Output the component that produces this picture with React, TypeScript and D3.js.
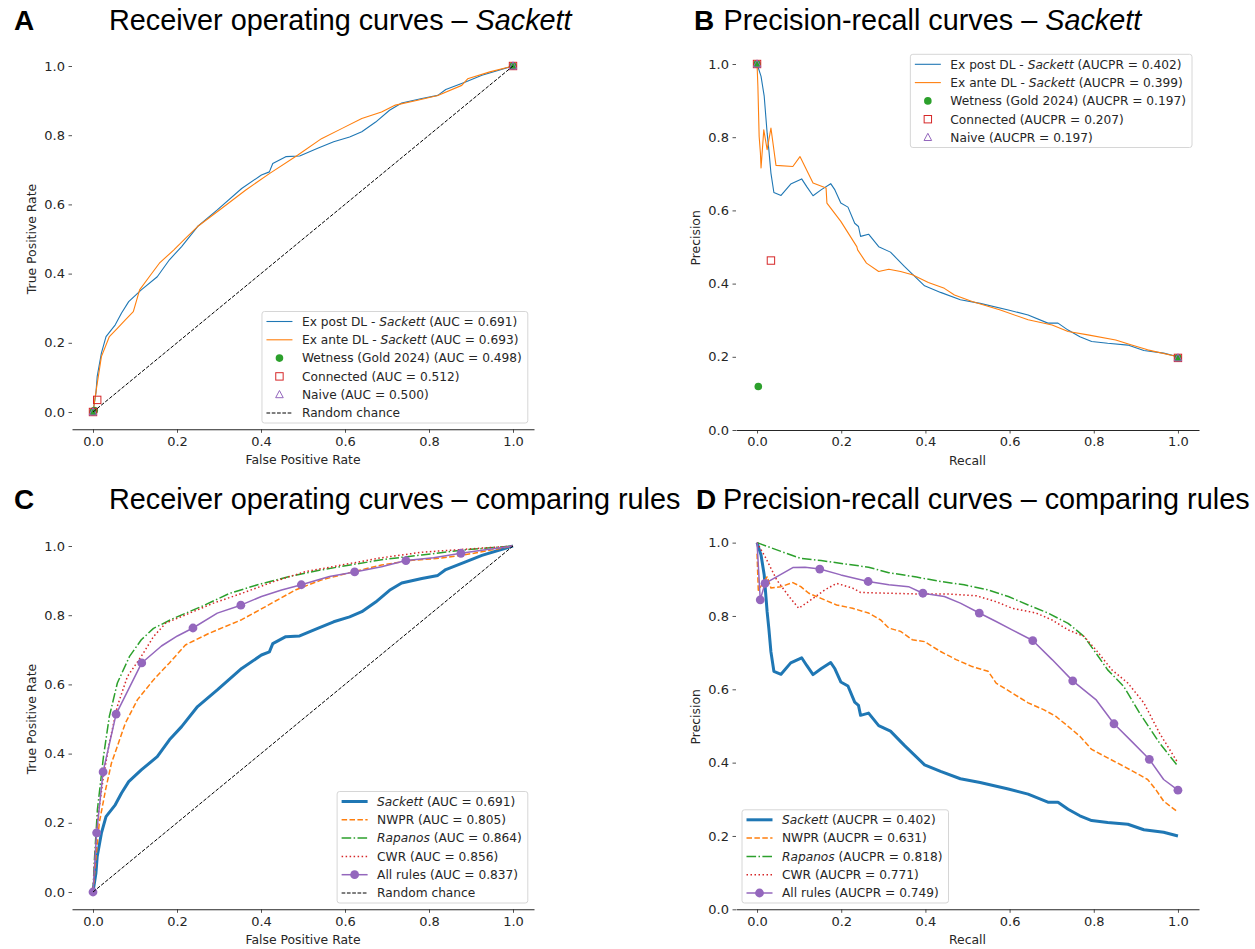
import React, { useEffect, useRef } from 'react';
import * as d3 from 'd3';

type Pt = [number, number];
type Seg = { t: string; i?: boolean };

// ---- Panel A: ROC, Sackett ----
const exPostRoc: Pt[] = [
  [0, 0], [0.007, 0.055], [0.01, 0.103], [0.02, 0.17], [0.031, 0.218], [0.053, 0.252], [0.068, 0.286],
  [0.085, 0.319], [0.115, 0.353], [0.153, 0.391], [0.182, 0.44], [0.211, 0.478], [0.249, 0.536],
  [0.296, 0.584], [0.354, 0.646], [0.401, 0.685], [0.42, 0.694], [0.428, 0.718], [0.459, 0.738],
  [0.492, 0.74], [0.535, 0.762], [0.573, 0.781], [0.611, 0.795], [0.64, 0.81], [0.673, 0.838],
  [0.706, 0.872], [0.735, 0.893], [0.783, 0.906], [0.821, 0.915], [0.84, 0.932], [0.887, 0.954],
  [0.926, 0.973], [1, 1],
];
const exAnteRoc: Pt[] = [
  [0, 0], [0.009, 0.074], [0.02, 0.16], [0.039, 0.218], [0.058, 0.242], [0.077, 0.266], [0.096, 0.29],
  [0.111, 0.353], [0.134, 0.391], [0.158, 0.43], [0.192, 0.468], [0.22, 0.502], [0.249, 0.536],
  [0.306, 0.588], [0.363, 0.641], [0.42, 0.689], [0.487, 0.742], [0.544, 0.79], [0.592, 0.819],
  [0.64, 0.848], [0.687, 0.867], [0.72, 0.887], [0.773, 0.901], [0.821, 0.915], [0.878, 0.944],
  [0.892, 0.963], [0.945, 0.983], [1, 1],
];
const wetnessRoc: Pt[] = [[0, 0], [0.003, 0.004], [1, 1]];
const connectedRoc: Pt[] = [[0, 0], [0.01, 0.035], [1, 1]];
const naiveRoc: Pt[] = [[0, 0], [1, 1]];
const randomChance: Pt[] = [[0, 0], [1, 1]];

// ---- Panel B: precision-recall, Sackett ----
const exPostPr: Pt[] = [
  [0, 1], [0.0095, 0.966], [0.017, 0.912], [0.024, 0.811], [0.028, 0.766], [0.033, 0.702], [0.04, 0.649],
  [0.057, 0.641], [0.08, 0.672], [0.106, 0.686], [0.118, 0.665], [0.133, 0.64], [0.152, 0.656],
  [0.175, 0.673], [0.185, 0.656], [0.199, 0.62], [0.216, 0.609], [0.232, 0.565], [0.241, 0.556],
  [0.246, 0.529], [0.265, 0.535], [0.289, 0.501], [0.317, 0.486], [0.35, 0.447], [0.398, 0.394],
  [0.436, 0.376], [0.483, 0.356], [0.53, 0.346], [0.597, 0.328], [0.644, 0.314], [0.691, 0.292],
  [0.715, 0.292], [0.739, 0.273], [0.767, 0.255], [0.795, 0.242], [0.833, 0.237], [0.881, 0.232],
  [0.919, 0.217], [0.966, 0.21], [1, 0.2],
];
const exAntePr: Pt[] = [
  [0, 1], [0.002, 0.939], [0.005, 0.802], [0.008, 0.757], [0.0095, 0.716], [0.016, 0.82], [0.024, 0.766],
  [0.033, 0.825], [0.045, 0.723], [0.085, 0.72], [0.102, 0.747], [0.133, 0.675], [0.164, 0.661],
  [0.166, 0.62], [0.199, 0.57], [0.237, 0.501], [0.239, 0.492], [0.26, 0.456], [0.289, 0.433],
  [0.313, 0.439], [0.341, 0.433], [0.369, 0.424], [0.407, 0.403], [0.445, 0.387], [0.469, 0.369],
  [0.511, 0.351], [0.578, 0.328], [0.644, 0.301], [0.701, 0.287], [0.739, 0.269], [0.786, 0.26],
  [0.852, 0.246], [0.89, 0.232], [0.928, 0.219], [1, 0.2],
];
const wetnessPr: Pt[] = [[0, 1], [0.003, 0.119], [1, 0.197]];
const connectedPr: Pt[] = [[0, 1], [0.033, 0.463], [1, 0.197]];
const naivePr: Pt[] = [[0, 1], [1, 0.197]];

// ---- Panel C: ROC, comparing rules ----
const sackettRoc = exPostRoc;
const nwprRoc: Pt[] = [
  [0, 0], [0.006, 0.085], [0.015, 0.2], [0.03, 0.296], [0.044, 0.373], [0.058, 0.421], [0.077, 0.488],
  [0.106, 0.556], [0.144, 0.613], [0.182, 0.662], [0.22, 0.714], [0.277, 0.748], [0.354, 0.787],
  [0.411, 0.825], [0.482, 0.873], [0.544, 0.902], [0.621, 0.926], [0.687, 0.945], [0.754, 0.958],
  [0.83, 0.965], [0.907, 0.979], [1, 1],
];
const rapanosRoc: Pt[] = [
  [0, 0], [0.003, 0.085], [0.0105, 0.238], [0.025, 0.392], [0.039, 0.508], [0.058, 0.604], [0.087, 0.681],
  [0.115, 0.729], [0.144, 0.762], [0.192, 0.791], [0.258, 0.825], [0.325, 0.863], [0.392, 0.888],
  [0.468, 0.912], [0.544, 0.931], [0.621, 0.947], [0.697, 0.962], [0.783, 0.974], [0.878, 0.988], [1, 1],
];
const cwrRoc: Pt[] = [
  [0, 0], [0.004, 0.085], [0.012, 0.219], [0.025, 0.335], [0.039, 0.431], [0.058, 0.537], [0.082, 0.623],
  [0.115, 0.681], [0.144, 0.738], [0.173, 0.777], [0.23, 0.806], [0.287, 0.835], [0.354, 0.863],
  [0.43, 0.897], [0.506, 0.926], [0.592, 0.945], [0.687, 0.966], [0.783, 0.982], [0.878, 0.99], [1, 1],
];
const allRulesRoc: Pt[] = [
  [0, 0], [0.0086, 0.171], [0.024, 0.347], [0.055, 0.514], [0.116, 0.662], [0.163, 0.711], [0.201, 0.74],
  [0.238, 0.763], [0.296, 0.806], [0.352, 0.829], [0.401, 0.854], [0.449, 0.873], [0.496, 0.888],
  [0.563, 0.912], [0.623, 0.925], [0.687, 0.94], [0.745, 0.958], [0.811, 0.966], [0.876, 0.979],
  [0.926, 0.988], [1, 1],
];
const allRulesRocMarks: Pt[] = [
  [0, 0], [0.0086, 0.171], [0.024, 0.347], [0.055, 0.514], [0.116, 0.662], [0.238, 0.763], [0.352, 0.829],
  [0.496, 0.888], [0.623, 0.925], [0.745, 0.958], [0.876, 0.979],
];

// ---- Panel D: precision-recall, comparing rules ----
const sackettPr = exPostPr;
const nwprPr: Pt[] = [
  [0, 0.97], [0.003, 0.87], [0.024, 0.907], [0.033, 0.876], [0.057, 0.88], [0.085, 0.891], [0.104, 0.88],
  [0.123, 0.862], [0.152, 0.848], [0.189, 0.83], [0.227, 0.821], [0.265, 0.808], [0.294, 0.789],
  [0.313, 0.767], [0.341, 0.758], [0.369, 0.735], [0.398, 0.73], [0.436, 0.703], [0.473, 0.681],
  [0.511, 0.662], [0.549, 0.649], [0.568, 0.617], [0.606, 0.59], [0.644, 0.563], [0.682, 0.544],
  [0.71, 0.526], [0.739, 0.499], [0.767, 0.472], [0.795, 0.436], [0.833, 0.413], [0.871, 0.39],
  [0.9, 0.372], [0.928, 0.354], [0.947, 0.327], [0.966, 0.295], [1, 0.265],
];
const rapanosPr: Pt[] = [
  [0, 1], [0.057, 0.976], [0.104, 0.957], [0.152, 0.951], [0.208, 0.942], [0.265, 0.933], [0.313, 0.918],
  [0.379, 0.906], [0.436, 0.894], [0.492, 0.885], [0.549, 0.871], [0.597, 0.853], [0.644, 0.83],
  [0.691, 0.808], [0.739, 0.78], [0.777, 0.744], [0.805, 0.699], [0.833, 0.653], [0.871, 0.608],
  [0.909, 0.535], [0.956, 0.454], [1, 0.39],
];
const cwrPr: Pt[] = [
  [0, 1], [0.019, 0.962], [0.047, 0.898], [0.076, 0.853], [0.099, 0.821], [0.133, 0.848], [0.161, 0.871],
  [0.189, 0.889], [0.227, 0.876], [0.246, 0.864], [0.313, 0.862], [0.379, 0.86], [0.455, 0.86],
  [0.521, 0.855], [0.568, 0.839], [0.606, 0.821], [0.663, 0.808], [0.701, 0.789], [0.739, 0.762],
  [0.777, 0.744], [0.805, 0.708], [0.843, 0.653], [0.881, 0.617], [0.919, 0.563], [0.956, 0.481], [1, 0.399],
];
const allRulesPr: Pt[] = [
  [0, 1], [0.0076, 0.844], [0.019, 0.889], [0.085, 0.932], [0.114, 0.933], [0.149, 0.928], [0.199, 0.912],
  [0.264, 0.894], [0.313, 0.885], [0.36, 0.88], [0.394, 0.862], [0.445, 0.853], [0.483, 0.835],
  [0.528, 0.808], [0.568, 0.785], [0.606, 0.762], [0.655, 0.733], [0.701, 0.681], [0.75, 0.623],
  [0.805, 0.572], [0.848, 0.506], [0.89, 0.458], [0.932, 0.409], [0.966, 0.354], [1, 0.325],
];
const allRulesPrMarks: Pt[] = [
  [0.0076, 0.844], [0.019, 0.889], [0.149, 0.928], [0.264, 0.894], [0.394, 0.862], [0.528, 0.808],
  [0.655, 0.733], [0.75, 0.623], [0.848, 0.506], [0.932, 0.409], [1, 0.325],
];

const tickValues = [0, 0.2, 0.4, 0.6, 0.8, 1.0];

const BLUE = '#1f77b4';
const ORANGE = '#ff7f0e';
const GREEN = '#2ca02c';
const RED = '#d62728';
const PURPLE = '#9467bd';

const FONT = 'DejaVu Sans, sans-serif';
const TITLE_FONT = 'Liberation Sans, Arial, sans-serif';

type Series = {
  data: Pt[];
  color: string;
  line?: boolean;
  width?: number;
  dash?: string;
  marker?: 'circle' | 'square' | 'triangle';
  marks?: Pt[];
  label: Seg[];
};

const panels = [
  {
    letter: 'A', letterX: 14, titleX: 109, baseY: 29.5,
    title: [{ t: 'Receiver operating curves – ' }, { t: 'Sackett', i: true }],
    x0: 72, x1: 534, yBottom: 429.3, yTop: 48.7, yDomain: [-0.05, 1.05],
    xLabel: 'False Positive Rate', yLabel: 'True Positive Rate',
    legend: { anchor: 'right', ax: 527.8, bottom: 423 },
    series: [
      { data: exPostRoc, color: BLUE, line: true, width: 1.1, label: [{ t: 'Ex post DL - ' }, { t: 'Sackett', i: true }, { t: ' (AUC = 0.691)' }] },
      { data: exAnteRoc, color: ORANGE, line: true, width: 1.1, label: [{ t: 'Ex ante DL - ' }, { t: 'Sackett', i: true }, { t: ' (AUC = 0.693)' }] },
      { data: wetnessRoc, color: GREEN, marker: 'circle', label: [{ t: 'Wetness (Gold 2024) (AUC = 0.498)' }] },
      { data: connectedRoc, color: RED, marker: 'square', label: [{ t: 'Connected (AUC = 0.512)' }] },
      { data: naiveRoc, color: PURPLE, marker: 'triangle', label: [{ t: 'Naive (AUC = 0.500)' }] },
      { data: randomChance, color: '#000', line: true, width: 1, dash: '3.7,1.6', label: [{ t: 'Random chance' }] },
    ] as Series[],
  },
  {
    letter: 'B', letterX: 694, titleX: 723.5, baseY: 29.5,
    title: [{ t: 'Precision-recall curves – ' }, { t: 'Sackett', i: true }],
    x0: 736, x1: 1199, yBottom: 430, yTop: 45.7, yDomain: [0, 1.05],
    xLabel: 'Recall', yLabel: 'Precision',
    legend: { anchor: 'right', ax: 1192, top: 54.3 },
    series: [
      { data: exPostPr, color: BLUE, line: true, width: 1.1, label: [{ t: 'Ex post DL - ' }, { t: 'Sackett', i: true }, { t: ' (AUCPR = 0.402)' }] },
      { data: exAntePr, color: ORANGE, line: true, width: 1.1, label: [{ t: 'Ex ante DL - ' }, { t: 'Sackett', i: true }, { t: ' (AUCPR = 0.399)' }] },
      { data: wetnessPr, color: GREEN, marker: 'circle', label: [{ t: 'Wetness (Gold 2024) (AUCPR = 0.197)' }] },
      { data: connectedPr, color: RED, marker: 'square', label: [{ t: 'Connected (AUCPR = 0.207)' }] },
      { data: naivePr, color: PURPLE, marker: 'triangle', label: [{ t: 'Naive (AUCPR = 0.197)' }] },
    ] as Series[],
  },
  {
    letter: 'C', letterX: 14, titleX: 109, baseY: 509.3,
    title: [{ t: 'Receiver operating curves – comparing rules' }],
    x0: 72, x1: 534, yBottom: 909.3, yTop: 528.7, yDomain: [-0.05, 1.05],
    xLabel: 'False Positive Rate', yLabel: 'True Positive Rate',
    legend: { anchor: 'right', ax: 527.8, bottom: 903 },
    series: [
      { data: sackettRoc, color: BLUE, line: true, width: 3, label: [{ t: 'Sackett', i: true }, { t: ' (AUC = 0.691)' }] },
      { data: nwprRoc, color: ORANGE, line: true, width: 1.5, dash: '5.5,2.4', label: [{ t: 'NWPR (AUC = 0.805)' }] },
      { data: rapanosRoc, color: GREEN, line: true, width: 1.5, dash: '9.6,2.4,1.5,2.4', label: [{ t: 'Rapanos', i: true }, { t: ' (AUC = 0.864)' }] },
      { data: cwrRoc, color: RED, line: true, width: 1.5, dash: '1.5,2.5', label: [{ t: 'CWR (AUC = 0.856)' }] },
      { data: allRulesRoc, marks: allRulesRocMarks, color: PURPLE, line: true, width: 1.5, marker: 'circle', label: [{ t: 'All rules (AUC = 0.837)' }] },
      { data: randomChance, color: '#000', line: true, width: 1, dash: '3.7,1.6', label: [{ t: 'Random chance' }] },
    ] as Series[],
  },
  {
    letter: 'D', letterX: 696, titleX: 723, baseY: 509.3,
    title: [{ t: 'Precision-recall curves – comparing rules' }],
    x0: 736, x1: 1199, yBottom: 909.3, yTop: 524.3, yDomain: [0, 1.05],
    xLabel: 'Recall', yLabel: 'Precision',
    legend: { anchor: 'left', ax: 742, bottom: 903 },
    series: [
      { data: sackettPr, color: BLUE, line: true, width: 3, label: [{ t: 'Sackett', i: true }, { t: ' (AUCPR = 0.402)' }] },
      { data: nwprPr, color: ORANGE, line: true, width: 1.5, dash: '5.5,2.4', label: [{ t: 'NWPR (AUCPR = 0.631)' }] },
      { data: rapanosPr, color: GREEN, line: true, width: 1.5, dash: '9.6,2.4,1.5,2.4', label: [{ t: 'Rapanos', i: true }, { t: ' (AUCPR = 0.818)' }] },
      { data: cwrPr, color: RED, line: true, width: 1.5, dash: '1.5,2.5', label: [{ t: 'CWR (AUCPR = 0.771)' }] },
      { data: allRulesPr, marks: allRulesPrMarks, color: PURPLE, line: true, width: 1.5, marker: 'circle', label: [{ t: 'All rules (AUCPR = 0.749)' }] },
    ] as Series[],
  },
];

function drawMarker(g: any, kind: string, cx: number, cy: number, color: string, big: boolean) {
  if (kind === 'circle') {
    g.append('circle').attr('cx', cx).attr('cy', cy).attr('r', big ? 4.4 : 3.8).attr('fill', color);
  } else if (kind === 'square') {
    g.append('rect').attr('x', cx - 3.7).attr('y', cy - 3.7).attr('width', 7.4).attr('height', 7.4)
      .attr('fill', 'none').attr('stroke', color).attr('stroke-width', 1);
  } else {
    g.append('path')
      .attr('d', `M${cx},${cy - 4.2}L${cx + 3.8},${cy + 3}L${cx - 3.8},${cy + 3}Z`)
      .attr('fill', 'none').attr('stroke', color).attr('stroke-width', 1);
  }
}

function drawPanel(svg: any, p: any) {
  const x = d3.scaleLinear().domain([-0.05, 1.05]).range([p.x0, p.x1]);
  const y = d3.scaleLinear().domain(p.yDomain).range([p.yBottom, p.yTop]);
  const g = svg.append('g');

  // title and panel letter
  g.append('text').attr('x', p.letterX).attr('y', p.baseY)
    .attr('font-family', TITLE_FONT).attr('font-size', 28).attr('font-weight', 'bold').text(p.letter);
  const tt = g.append('text').attr('x', p.titleX).attr('y', p.baseY)
    .attr('font-family', TITLE_FONT).attr('font-size', 28.8).attr('fill', '#000');
  p.title.forEach((s: Seg) => tt.append('tspan').attr('font-style', s.i ? 'italic' : 'normal').text(s.t));

  // axes
  const fmt = d3.format('.1f');
  const yAxis = g.append('g').attr('transform', `translate(${p.x0},0)`)
    .call(d3.axisLeft(y).tickValues(tickValues).tickFormat(fmt as any).tickSize(3.5).tickPadding(3.5));
  yAxis.select('.domain').remove();
  const xAxis = g.append('g').attr('transform', `translate(0,${p.yBottom})`)
    .call(d3.axisBottom(x).tickValues(tickValues).tickFormat(fmt as any).tickSize(3.5).tickSizeOuter(0).tickPadding(3.5));
  [yAxis, xAxis].forEach((a) => {
    a.attr('font-family', FONT).attr('font-size', 13);
    a.selectAll('text').attr('fill', '#262626');
    a.selectAll('.tick line').attr('stroke', '#262626').attr('stroke-width', 0.8);
  });
  xAxis.select('.domain').attr('stroke', '#262626').attr('stroke-width', 1.1);

  g.append('text').attr('x', (p.x0 + p.x1) / 2).attr('y', p.yBottom + 35)
    .attr('text-anchor', 'middle').attr('font-family', FONT).attr('font-size', 12.4).attr('fill', '#262626')
    .text(p.xLabel);
  g.append('text')
    .attr('transform', `translate(${p.x0 - 40},${(p.yBottom + p.yTop) / 2}) rotate(-90)`)
    .attr('dy', '0.35em').attr('text-anchor', 'middle').attr('font-family', FONT).attr('font-size', 12.4)
    .attr('fill', '#262626').text(p.yLabel);

  // series
  const line = d3.line<Pt>().x((d) => x(d[0])).y((d) => y(d[1]));
  p.series.forEach((s: Series) => {
    if (s.line) {
      g.append('path').datum(s.data).attr('d', line).attr('fill', 'none')
        .attr('stroke', s.color).attr('stroke-width', s.width)
        .attr('stroke-dasharray', s.dash || null).attr('stroke-linejoin', 'round');
    }
    if (s.marker) {
      const pts = s.marks || s.data;
      pts.forEach((d) => drawMarker(g, s.marker!, x(d[0]), y(d[1]), s.color, !!s.marks));
    }
  });

  // legend
  const lg = g.append('g');
  const step = 18.3;
  let maxW = 0;
  p.series.forEach((s: Series, i: number) => {
    const cy = 10 + i * step;
    if (s.line) {
      lg.append('line').attr('x1', 4.5).attr('x2', 30.5).attr('y1', cy).attr('y2', cy)
        .attr('stroke', s.color).attr('stroke-width', s.width).attr('stroke-dasharray', s.dash || null);
    }
    if (s.marker) drawMarker(lg, s.marker, 17.5, cy, s.color, !!s.marks);
    const t = lg.append('text').attr('x', 40).attr('y', cy).attr('dy', '0.36em')
      .attr('font-family', FONT).attr('font-size', 12.2).attr('fill', '#262626');
    s.label.forEach((seg) => t.append('tspan').attr('font-style', seg.i ? 'italic' : 'normal').text(seg.t));
    maxW = Math.max(maxW, (t.node() as SVGTextElement).getComputedTextLength());
  });
  const w = maxW + 40 + 6;
  const h = 20 + (p.series.length - 1) * step;
  lg.insert('rect', ':first-child').attr('width', w).attr('height', h).attr('rx', 2.5)
    .attr('fill', '#fff').attr('fill-opacity', 0.8).attr('stroke', '#d6d6d6').attr('stroke-width', 1);
  const lx = p.legend.anchor === 'right' ? p.legend.ax - w : p.legend.ax;
  const ly = p.legend.top !== undefined ? p.legend.top : p.legend.bottom - h;
  lg.attr('transform', `translate(${lx},${ly})`);
}

export default function App() {
  const ref = useRef<SVGSVGElement>(null);

  useEffect(() => {
    const svg = d3.select(ref.current);
    svg.selectAll('*').remove();
    svg.append('rect').attr('width', 1255).attr('height', 949).attr('fill', '#fff');
    panels.forEach((p) => drawPanel(svg, p));
  }, []);

  return (
    <svg ref={ref} width={1255} height={949}
      style={{ position: 'absolute', left: 0, top: 0, display: 'block' }} />
  );
}
